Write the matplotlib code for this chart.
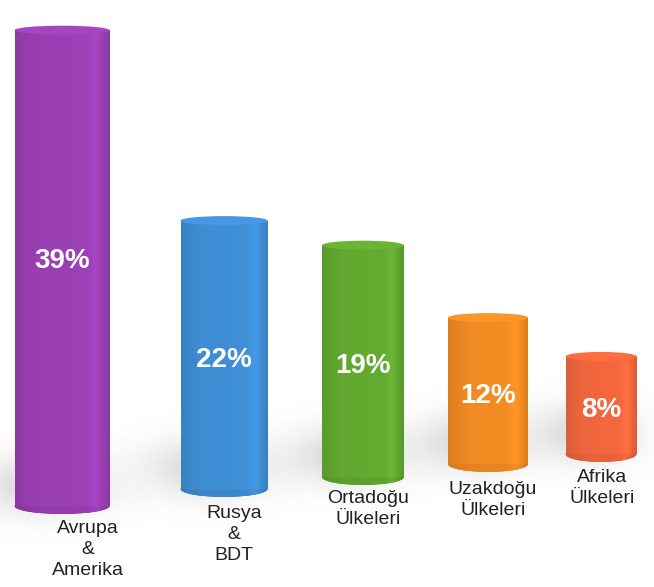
import matplotlib.pyplot as plt
import numpy as np
from matplotlib.patches import Ellipse
from matplotlib.colors import to_rgb

# data
regions = ["Avrupa\n&\nAmerika", "Rusya\n&\nBDT", "Ortadoğu\nÜlkeleri",
           "Uzakdoğu\nÜlkeleri", "Afrika\nÜlkeleri"]
shares = [39, 22, 19, 12, 8]
colors = ["#9a3fb3", "#3f8dd3", "#62a830", "#f08a22", "#f0663c"]

# layout (x in pixels, y in percent units on a perspective baseline)
W, H = 654, 587
PX = 12.2                       # pixels per percent
centers = [62, 224, 363, 488, 601]
widths = [95, 87, 82, 80, 71]
bottom_px = [506, 489, 477, 464, 454]
label_x = [88, 234, 368, 493, 602]
label_top_px = [520, 505, 490, 481, 469]

def py(p):
    return (H - p) / PX

fig = plt.figure(figsize=(W / 100, H / 100), dpi=100)
ax = fig.add_axes([0, 0, 1, 1])
ax.set_xlim(0, W)
ax.set_ylim(0, H / PX)
ax.axis("off")

font = ["Liberation Sans", "DejaVu Sans"]
shade = np.concatenate([np.linspace(0.92, 1.0, 25), np.linspace(1.0, 1.02, 50),
                        np.linspace(1.02, 1.09, 10), np.linspace(1.09, 0.9, 15)])

# soft gray floor shadow (smooth gaussian blob image)
gx = np.linspace(-1, 1, 200)
gy = np.linspace(-1, 1, 80)
GX, GY = np.meshgrid(gx, gy)
blob = np.zeros((80, 200, 4))
blob[..., :3] = 0.55
blob[..., 3] = 0.35 * np.exp(-(GX ** 2) * 3.0 - (GY ** 2) * 4.0)

bottoms = [py(b) for b in bottom_px]
bars = ax.bar(centers, shares, width=widths, bottom=bottoms, color=colors,
              zorder=3, linewidth=0)

for i, bar in enumerate(bars):
    x0, w = bar.get_x(), bar.get_width()
    b, h = bar.get_y(), bar.get_height()
    base = np.array(to_rgb(colors[i]))
    eh = 8 / PX

    sw = w * 2.3
    ax.imshow(blob, extent=[x0 - w * 0.85, x0 - w * 0.85 + sw,
                            b - 3.0, b + 6.5],
              aspect="auto", zorder=1, interpolation="bilinear")

    img = np.clip(base[None, :] * shade[:, None], 0, 1)[None, :, :]
    im = ax.imshow(img, extent=[x0, x0 + w, b - eh, b + h], aspect="auto",
                   zorder=3.5, interpolation="bilinear")
    im.set_clip_path(bar)

    bot = Ellipse((x0 + w / 2, b), w, 2 * eh, lw=0, zorder=2,
                  facecolor=base * 0.9)
    ax.add_patch(bot)
    im2 = ax.imshow(np.clip(img * 0.95, 0, 1), extent=[x0, x0 + w, b - eh, b + h],
                    aspect="auto", zorder=2.5, interpolation="bilinear")
    im2.set_clip_path(bot)

    top = Ellipse((x0 + w / 2, b + h), w, 9 / PX,
                  facecolor=np.clip(base * 1.08, 0, 1), lw=0, zorder=4)
    ax.add_patch(top)

    ax.text(x0 + w / 2, b + h * 0.5 + (0.6 if i == 0 else -0.4),
            f"{shares[i]}%", color="white", fontsize=20, fontweight="bold",
            ha="center", va="center", family=font, zorder=5)

    ax.text(label_x[i], py(label_top_px[i]), regions[i], color="#222222",
            fontsize=14, ha="center", va="top", family=font,
            linespacing=1.3, zorder=5)

fig.savefig("out.png", dpi=100)
